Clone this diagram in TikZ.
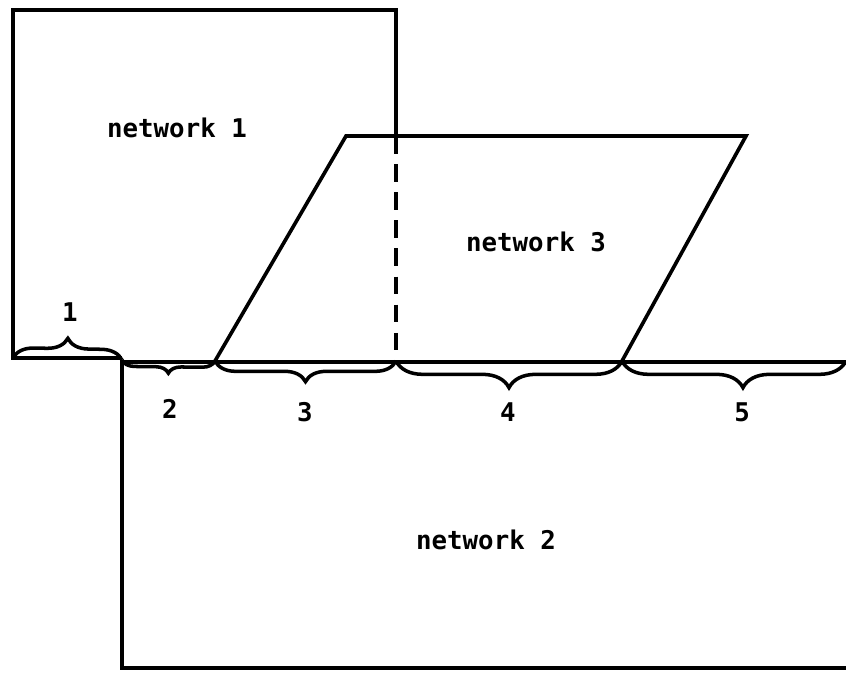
\documentclass[tikz,border=0pt]{standalone}
\usepackage{fontspec}
\setmonofont{DejaVu Sans Mono}
\usetikzlibrary{decorations.pathreplacing}
\tikzstyle{net} = [line width=3.1pt, line join=miter]
\tikzstyle{lbl} = [font=\ttfamily\bfseries\fontsize{22}{22}\selectfont, inner sep=0pt]
\tikzset{bup/.style={decorate, line width=3pt, decoration={brace, amplitude=#1}},
         bdown/.style={decorate, line width=3pt, decoration={brace, mirror, amplitude=#1}}}

\begin{document}
\begin{tikzpicture}[x=0.03cm, y=-0.03cm]
    \useasboundingbox (0,0) rectangle (846,674);
    % points on the common edge
    \coordinate (a) at (13,358);
    \coordinate (b) at (122,360);
    \coordinate (c) at (215,361);
    \coordinate (d) at (396,361);
    \coordinate (e) at (622,361);
    \coordinate (f) at (846,361);
    % network 1
    \draw[net] (122,358) -- (a) -- (13,10) -- (396,10) -- (396,136);
    % network 3
    \draw[net] (c) -- (346,136) -- (746,136) -- (e);
    \draw[net, dash pattern=on 15pt off 9pt] (396,136) -- (d);
    % network 2
    \draw[net] (846,362) -- (122,362) -- (122,668) -- (846,668);
    \node[lbl] (n1) at (177,128) {network 1};
    \node[lbl] (n3) at (536,242) {network 3};
    \node[lbl] (n2) at (486,540) {network 2};
    % braces
    \draw[bup=0.62cm] (a) -- (b);
    \draw[bdown=0.38cm] (b) -- (c);
    \draw[bdown=0.62cm] (c) -- (d);
    \draw[bdown=0.8cm] (d) -- (e);
    \draw[bdown=0.8cm, decoration={aspect=0.54}] (e) -- (f);
    \node[lbl] (l1) at (70,312) {1};
    \node[lbl] (l2) at (170,409) {2};
    \node[lbl] (l3) at (305,412) {3};
    \node[lbl] (l4) at (508,412) {4};
    \node[lbl] (l5) at (742,412) {5};
\end{tikzpicture}
\end{document}
